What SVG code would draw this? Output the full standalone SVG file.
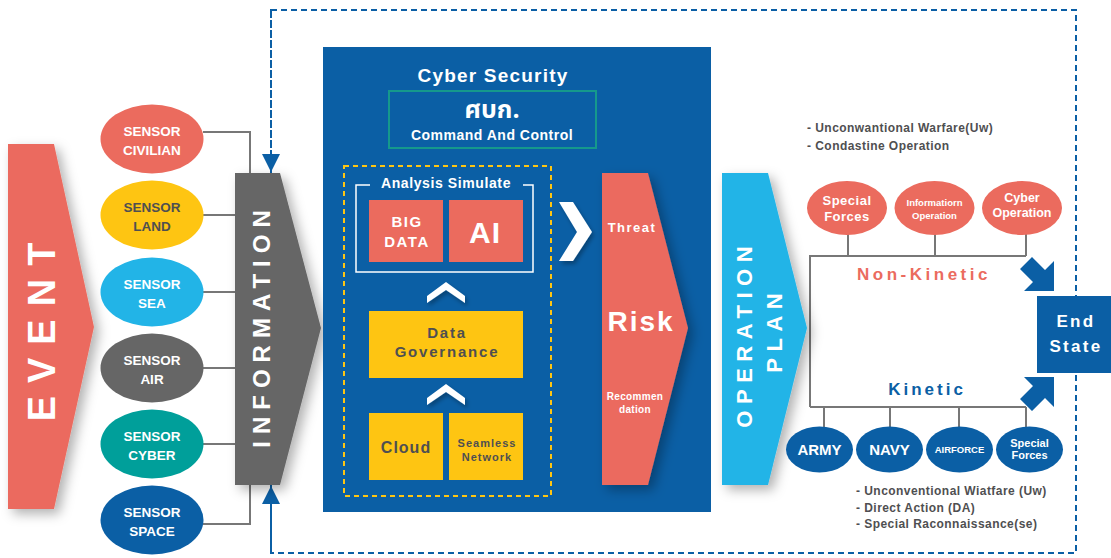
<svg xmlns="http://www.w3.org/2000/svg" width="1111" height="558" viewBox="0 0 1111 558">
<defs>
<filter id="sh" x="-30%" y="-10%" width="160%" height="130%">
<feDropShadow dx="5" dy="5" stdDeviation="6" flood-color="#000" flood-opacity="0.3"/>
</filter>
<filter id="sh2" x="-30%" y="-30%" width="160%" height="160%">
<feDropShadow dx="2" dy="3" stdDeviation="2" flood-color="#000" flood-opacity="0.3"/>
</filter>
<marker id="ah" viewBox="0 0 10 10" refX="10" refY="5" markerWidth="18" markerHeight="18" markerUnits="userSpaceOnUse" orient="auto">
<path d="M0,0 L10,5 L0,10 Z" fill="#0b5fa5"/>
</marker>
</defs>
<style>
text{font-family:"Liberation Sans",Arial,sans-serif;font-weight:bold;text-anchor:middle}
.w{fill:#fff}
.g{fill:#4f4f51}
.ln{stroke:#777;stroke-width:2;fill:none}
.coral{fill:#eb6b5e}
.yel{fill:#fec512}
.blue{fill:#0b5fa5}
.lst{text-anchor:start;font-size:12px;letter-spacing:0.45px;fill:#4f4f51}
</style>
<rect width="1111" height="558" fill="#fff"/>

<!-- outer dashed border -->
<rect id="scope" x="271" y="10" width="805" height="543" fill="none" stroke="#0b5fa5" stroke-width="2" stroke-dasharray="6 4"/>

<g id="connectors">
<path class="ln" d="M203,132 H250 V173"/>
<path class="ln" d="M203,215 H236"/>
<path class="ln" d="M203,292 H236"/>
<path class="ln" d="M203,368 H236"/>
<path class="ln" d="M203,444 H236"/>
<path class="ln" d="M203,524 H250 V485"/>
<line x1="271" y1="12" x2="271" y2="172" stroke="#0b5fa5" stroke-width="2" stroke-dasharray="6 4" marker-end="url(#ah)"/>
<line x1="271" y1="551" x2="271" y2="486" stroke="#0b5fa5" stroke-width="2" stroke-dasharray="6 4" marker-end="url(#ah)"/>
<path class="ln" d="M848,234 V256 M935,234 V256 M1026,234 V256 M810,407 V256 H1026"/>
<path class="ln" d="M810,407 H1026 M824,407 V427 M890,407 V427 M959,407 V427 M1026,407 V427"/>
<path class="blue" d="M1054,261 L1054,291 L1024,291 L1033,282 L1020,269 L1032,257 L1045,270 Z"/>
<path class="blue" d="M1054,407 L1054,377 L1024,377 L1033,386 L1020,399 L1032,411 L1045,398 Z"/>
</g>

<g id="event">
<path class="coral" filter="url(#sh)" d="M8,144 H54 L94,327 L54,509 H8 Z"/>
<text class="w" font-size="38" letter-spacing="13" transform="translate(55,332) rotate(-90)" x="6.5">EVENT</text>
</g>

<g id="sensor-civilian">
<ellipse cx="152" cy="139" rx="51.5" ry="34.5" fill="#eb6b5e"/>
<text class="w" font-size="13.5" x="152" y="136">SENSOR</text>
<text class="w" font-size="13.5" x="152" y="155">CIVILIAN</text>
</g>
<g id="sensor-land">
<ellipse cx="152" cy="215" rx="51.5" ry="34.5" fill="#fec512"/>
<text class="g" font-size="13.5" x="152" y="212">SENSOR</text>
<text class="g" font-size="13.5" x="152" y="231">LAND</text>
</g>
<g id="sensor-sea">
<ellipse cx="152" cy="292" rx="51.5" ry="34.5" fill="#22b4e7"/>
<text class="w" font-size="13.5" x="152" y="289">SENSOR</text>
<text class="w" font-size="13.5" x="152" y="308">SEA</text>
</g>
<g id="sensor-air">
<ellipse cx="152" cy="368" rx="51.5" ry="34.5" fill="#666666"/>
<text class="w" font-size="13.5" x="152" y="365">SENSOR</text>
<text class="w" font-size="13.5" x="152" y="384">AIR</text>
</g>
<g id="sensor-cyber">
<ellipse cx="152" cy="444" rx="51.5" ry="34.5" fill="#009f9a"/>
<text class="w" font-size="13.5" x="152" y="441">SENSOR</text>
<text class="w" font-size="13.5" x="152" y="460">CYBER</text>
</g>
<g id="sensor-space">
<ellipse cx="152" cy="520" rx="51.5" ry="34.5" fill="#0b5fa5"/>
<text class="w" font-size="13.5" x="152" y="517">SENSOR</text>
<text class="w" font-size="13.5" x="152" y="536">SPACE</text>
</g>

<g id="information">
<path fill="#666666" filter="url(#sh)" d="M235,173 H280 L321,328 L280,485 H235 Z"/>
<text class="w" font-size="24" letter-spacing="7" transform="translate(270,329) rotate(-90)" x="3.5">INFORMATION</text>
</g>

<g id="cyber-panel">
<rect x="323" y="47" width="388" height="465" fill="#0b5fa5"/>
<text class="w" font-size="19" letter-spacing="1.2" x="493" y="82">Cyber Security</text>
</g>

<g id="command-control">
<rect x="389" y="91" width="207" height="57" fill="none" stroke="#15998c" stroke-width="2"/>
<text class="w" font-size="25" x="492" y="118" style="font-family:'Noto Sans Thai','Noto Sans','DejaVu Sans',sans-serif">ศบก.</text>
<text class="w" font-size="14" letter-spacing="0.5" x="492" y="140">Command And Control</text>
</g>

<g id="analysis-group">
<rect x="344" y="166" width="207" height="330" fill="none" stroke="#fec512" stroke-width="2" stroke-dasharray="5 4"/>
</g>

<g id="analysis-simulate">
<path d="M370,185 H356 V272 H533 V185 H523" fill="none" stroke="#fff" stroke-width="1.5"/>
<text class="w" font-size="14" letter-spacing="0.6" x="446" y="188">Analysis Simulate</text>
</g>
<g id="big-data">
<rect x="369" y="200" width="74" height="62" class="coral"/>
<text class="w" font-size="15" letter-spacing="1.5" x="407" y="227">BIG</text>
<text class="w" font-size="15" letter-spacing="1.5" x="407" y="247">DATA</text>
</g>
<g id="ai">
<rect x="449" y="200" width="74" height="62" class="coral"/>
<text class="w" font-size="30" letter-spacing="1" x="485" y="243">AI</text>
</g>
<g id="chevrons">
<path class="w" filter="url(#sh2)" d="M427,296 L446,282 L465,296 L465,303 L446,290 L427,303 Z"/>
<path class="w" filter="url(#sh2)" d="M427,398 L446,384 L465,398 L465,405 L446,392 L427,405 Z"/>
<path class="w" filter="url(#sh2)" d="M559,202 L573,202 L592,232 L573,261 L559,261 L577,232 Z"/>
</g>
<g id="data-governance">
<rect x="369" y="311" width="154" height="67" class="yel"/>
<text class="g" font-size="15" letter-spacing="1.8" x="447" y="338">Data</text>
<text class="g" font-size="15" letter-spacing="1.8" x="447" y="357">Governance</text>
</g>
<g id="cloud">
<rect x="369" y="413" width="74" height="67" class="yel"/>
<text class="g" font-size="16" letter-spacing="1" x="406" y="453">Cloud</text>
</g>
<g id="seamless-network">
<rect x="449" y="413" width="74" height="67" class="yel"/>
<text class="g" font-size="11" letter-spacing="1" x="487" y="447">Seamless</text>
<text class="g" font-size="11" letter-spacing="1" x="487" y="461">Network</text>
</g>

<g id="risk">
<path class="coral" filter="url(#sh)" d="M602,173 H648 L688,328 L648,485 H602 Z"/>
<text class="w" font-size="13" letter-spacing="1.5" x="632" y="232">Threat</text>
<text class="w" font-size="28" letter-spacing="2" x="641" y="331">Risk</text>
<text class="w" font-size="10" letter-spacing="0.3" x="635" y="400">Recommen</text>
<text class="w" font-size="10" letter-spacing="0.3" x="635" y="413">dation</text>
</g>

<g id="operation-plan">
<path fill="#22b4e7" filter="url(#sh)" d="M722,173 H768 L807,328 L768,485 H722 Z"/>
<text class="w" font-size="22" letter-spacing="6.5" transform="translate(752,337) rotate(-90)" x="3.2">OPERATION</text>
<text class="w" font-size="22" letter-spacing="6.5" transform="translate(782,333) rotate(-90)" x="3.2">PLAN</text>
</g>

<g id="non-kinetic-notes">
<text class="lst" x="807" y="132">- Unconwantional Warfare(Uw)</text>
<text class="lst" x="807" y="150">- Condastine Operation</text>
</g>
<g id="special-forces-nk">
<ellipse cx="847" cy="208" rx="40" ry="27" class="coral"/>
<text class="w" font-size="13" letter-spacing="0.5" x="847" y="205">Special</text>
<text class="w" font-size="13" letter-spacing="0.5" x="847" y="221">Forces</text>
</g>
<g id="information-operation">
<ellipse cx="934.5" cy="208" rx="40" ry="27" class="coral"/>
<text class="w" font-size="9.5" x="934.5" y="206">Informatiorn</text>
<text class="w" font-size="9.5" x="934.5" y="219">Operation</text>
</g>
<g id="cyber-operation">
<ellipse cx="1022" cy="208" rx="40" ry="27" class="coral"/>
<text class="w" font-size="12.5" x="1022" y="202">Cyber</text>
<text class="w" font-size="12.5" x="1022" y="217">Operation</text>
</g>
<g id="non-kinetic">
<text font-size="17" letter-spacing="3.5" x="924" y="280" fill="#eb6b5e">Non-Kinetic</text>
</g>
<g id="kinetic">
<text font-size="17" letter-spacing="3" x="927" y="395" fill="#0b5fa5">Kinetic</text>
</g>
<g id="army">
<ellipse cx="819.5" cy="449.5" rx="33.5" ry="23" class="blue"/>
<text class="w" font-size="15" x="819.5" y="455">ARMY</text>
</g>
<g id="navy">
<ellipse cx="889.5" cy="449.5" rx="33.5" ry="23" class="blue"/>
<text class="w" font-size="15" x="889.5" y="455">NAVY</text>
</g>
<g id="airforce">
<ellipse cx="959.5" cy="449.5" rx="33.5" ry="23" class="blue"/>
<text class="w" font-size="9.5" x="959.5" y="453">AIRFORCE</text>
</g>
<g id="special-forces-k">
<ellipse cx="1029.5" cy="449.5" rx="33.5" ry="23" class="blue"/>
<text class="w" font-size="11" x="1029.5" y="447">Special</text>
<text class="w" font-size="11" x="1029.5" y="459">Forces</text>
</g>
<g id="kinetic-notes">
<text class="lst" x="856" y="495">- Unconventional Wiatfare (Uw)</text>
<text class="lst" x="856" y="512">- Direct Action (DA)</text>
<text class="lst" x="856" y="528">- Special Raconnaissance(se)</text>
</g>

<g id="end-state">
<rect x="1037" y="296" width="74" height="77" class="blue"/>
<text class="w" font-size="17" letter-spacing="2.3" x="1076" y="327">End</text>
<text class="w" font-size="17" letter-spacing="2.3" x="1076" y="352">State</text>
</g>
</svg>
